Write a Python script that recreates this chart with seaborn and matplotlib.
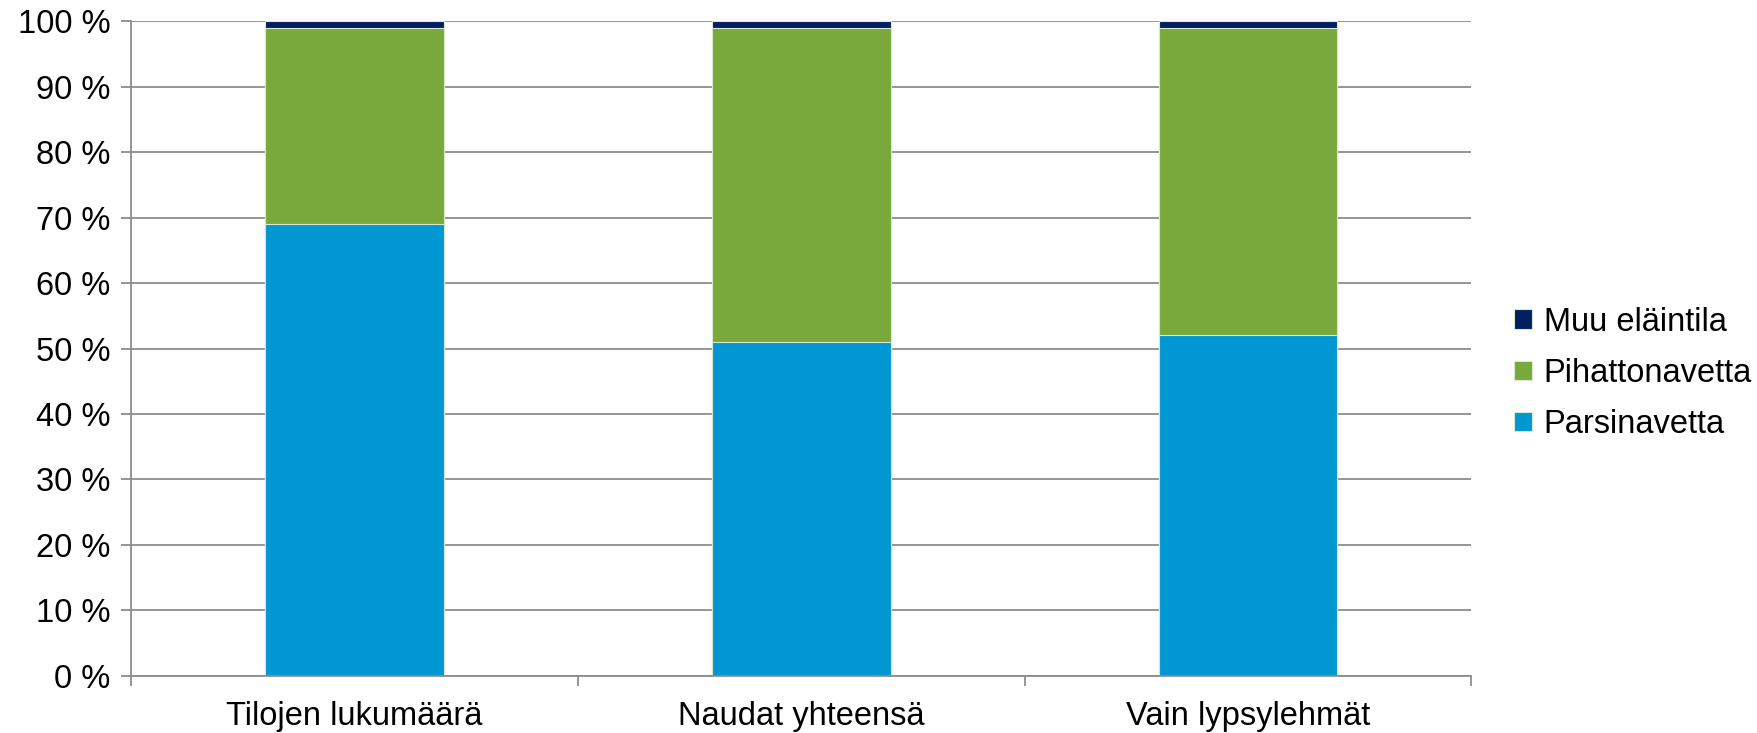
import matplotlib
matplotlib.use("Agg")
import matplotlib.pyplot as plt
import matplotlib.ticker as mticker
import pandas as pd
import seaborn as sns

categories = ["Tilojen lukumäärä", "Naudat yhteensä", "Vain lypsylehmät"]
parsinavetta = [69, 51, 52]
pihattonavetta = [30, 48, 47]
muu_elaintila = [1, 1, 1]

series = ["Parsinavetta", "Pihattonavetta", "Muu eläintila"]
colors = {"Parsinavetta": "#0097D3", "Pihattonavetta": "#78A93A", "Muu eläintila": "#002060"}

df = pd.DataFrame({"kategoria": categories,
                   "Parsinavetta": parsinavetta,
                   "Pihattonavetta": pihattonavetta,
                   "Muu eläintila": muu_elaintila})
# cumulative tops for stacking
cum = df[series].cumsum(axis=1)

sns.set_style("white")
plt.rcParams["font.family"] = ["Liberation Sans", "DejaVu Sans"]
plt.rcParams["text.color"] = "black"
plt.rcParams["xtick.labelcolor"] = "black"
plt.rcParams["ytick.labelcolor"] = "black"

fig, ax = plt.subplots(figsize=(17.58, 7.33), dpi=100)
fig.subplots_adjust(left=0.0745, right=0.837, top=0.971, bottom=0.078)

# draw from the top segment down so lower ones cover
for s in reversed(series):
    sns.barplot(x=df["kategoria"], y=cum[s], color=colors[s], width=0.4,
                edgecolor="#D8E8D0", linewidth=0.8, ax=ax, label=s, saturation=1)

ax.set_ylim(0, 100)
ax.set_xlim(-0.5, 2.5)
ax.yaxis.set_major_locator(mticker.MultipleLocator(10))
ax.yaxis.set_major_formatter(mticker.FuncFormatter(lambda v, p: f"{int(v)} %"))
ax.grid(axis="y", color="#8C8C8C", linewidth=1.3)
ax.set_axisbelow(True)
ax.set_xlabel("")
ax.set_ylabel("")

for sp in ["top", "right"]:
    ax.spines[sp].set_visible(False)
for sp in ["left", "bottom"]:
    ax.spines[sp].set_color("#8C8C8C")
    ax.spines[sp].set_linewidth(1.3)

ax.tick_params(axis="y", labelsize=23.5, length=7, color="#8C8C8C", width=1.3, left=True, pad=8)
ax.set_xticks([0, 1, 2])
ax.set_xticklabels(categories)
ax.tick_params(axis="x", which="major", length=0, labelsize=23.5, pad=18)
ax.set_xticks([-0.5, 0.5, 1.5, 2.5], minor=True)
ax.tick_params(axis="x", which="minor", length=7, color="#8C8C8C", width=1.3, bottom=True)

handles, labels = ax.get_legend_handles_labels()
ax.legend(handles, labels, loc="center left", bbox_to_anchor=(1.01, 0.462), frameon=False,
          fontsize=23.5, handlelength=0.55, handleheight=0.55, handletextpad=0.35, labelspacing=0.62)

fig.savefig("out.png", dpi=100)
